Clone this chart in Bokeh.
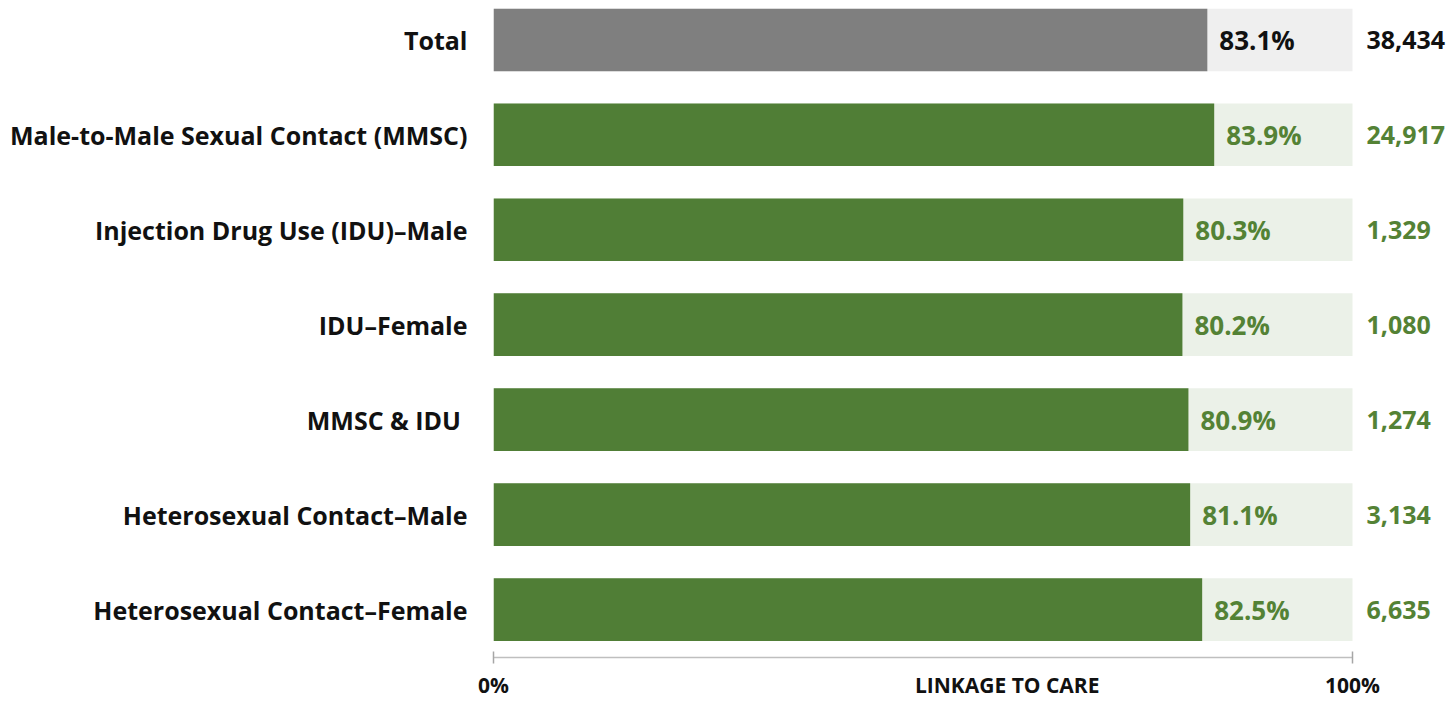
from bokeh.plotting import figure
from bokeh.models import Range1d, FixedTicker, ColumnDataSource
from bokeh.embed import file_html
from bokeh.resources import INLINE
from bokeh.core.properties import value

categories = [
    "Total",
    "Male-to-Male Sexual Contact (MMSC)",
    "Injection Drug Use (IDU)\u2013Male",
    "IDU\u2013Female",
    "MMSC & IDU ",
    "Heterosexual Contact\u2013Male",
    "Heterosexual Contact\u2013Female",
]
linkage_pct = [83.1, 83.9, 80.3, 80.2, 80.9, 81.1, 82.5]
counts = [38434, 24917, 1329, 1080, 1274, 3134, 6635]
tick_labels = {0: "0%", 100: "100%"}
axis_title = "LINKAGE TO CARE"

FONT = "Open Sans"
GRAY, LIGHT_GRAY = "#7f7f7f", "#efefef"
GREEN, LIGHT_GREEN, GREEN_TEXT = "#507e36", "#ebf1e8", "#548235"
TITLE_POS = 59.8  # horizontal placement of the axis title within the tick-label row

n = len(categories)
ypos = list(range(n))
bar_col = [GRAY if i == 0 else GREEN for i in ypos]
bg_col = [LIGHT_GRAY if i == 0 else LIGHT_GREEN for i in ypos]
txt_col = ["#111111" if i == 0 else GREEN_TEXT for i in ypos]

src = ColumnDataSource(dict(
    y=ypos, v=linkage_pct, full=[100] * n,
    bar=bar_col, bg=bg_col, tc=txt_col,
    pct=[f"{v:.1f}%" for v in linkage_pct],
    cnt=[f"{c:,}" for c in counts],
))

W, H = 1454, 701
LEFT, TOP, BOTTOM = 493, 8, 44
PX_PER_PCT = 8.59
p = figure(width=W, height=H, output_backend="svg", toolbar_location=None,
           x_range=Range1d(0, (W - LEFT) / PX_PER_PCT),
           y_range=Range1d(6.505, -0.33),
           min_border_left=LEFT, min_border_right=0, min_border_top=TOP,
           min_border_bottom=BOTTOM)
p.outline_line_color = None
p.grid.visible = False
p.background_fill_color = "white"

BAR_H = 0.66
p.hbar(y="y", left=0, right="full", height=BAR_H, fill_color="bg", line_color=None, source=src)
p.hbar(y="y", left=0, right="v", height=BAR_H, fill_color="bar", line_color=None, source=src)

p.text(x="v", y="y", text="pct", x_offset=12, text_baseline="middle", text_align="left",
       text_color="tc", text_font=value(FONT), text_font_style="bold",
       text_font_size="26px", source=src)
p.text(x="full", y="y", text="cnt", x_offset=14, text_baseline="middle", text_align="left",
       text_color="tc", text_font=value(FONT), text_font_style="bold",
       text_font_size="25px", source=src)

# x axis: tick marks only at 0 and 100 (minor ticks), title sits in the label row
xa = p.xaxis[0]
xa.ticker = FixedTicker(ticks=[0, TITLE_POS, 100], minor_ticks=list(tick_labels.keys()))
xa.major_label_overrides = {**tick_labels, TITLE_POS: axis_title}
xa.bounds = (0, 100)
xa.axis_line_color = "#bfbfbf"
xa.axis_line_width = 1.5
xa.major_tick_line_color = None
xa.major_tick_in = 0
xa.major_tick_out = 6
xa.minor_tick_line_color = "#a6a6a6"
xa.minor_tick_line_width = 1.5
xa.minor_tick_in = 6
xa.minor_tick_out = 6
xa.major_label_standoff = 7
xa.major_label_text_font = FONT
xa.major_label_text_font_style = "bold"
xa.major_label_text_font_size = "21px"
xa.major_label_text_color = "#111111"

# y axis
ya = p.yaxis[0]
ya.ticker = FixedTicker(ticks=ypos)
ya.major_label_overrides = {i: c for i, c in enumerate(categories)}
ya.axis_line_color = None
ya.major_tick_line_color = None
ya.minor_tick_line_color = None
ya.major_tick_out = 0
ya.major_tick_in = 0
ya.major_label_standoff = 26
ya.major_label_text_font = FONT
ya.major_label_text_font_style = "bold"
ya.major_label_text_font_size = "25px"
ya.major_label_text_color = "#111111"

open("out.html", "w").write(file_html(p, INLINE))
